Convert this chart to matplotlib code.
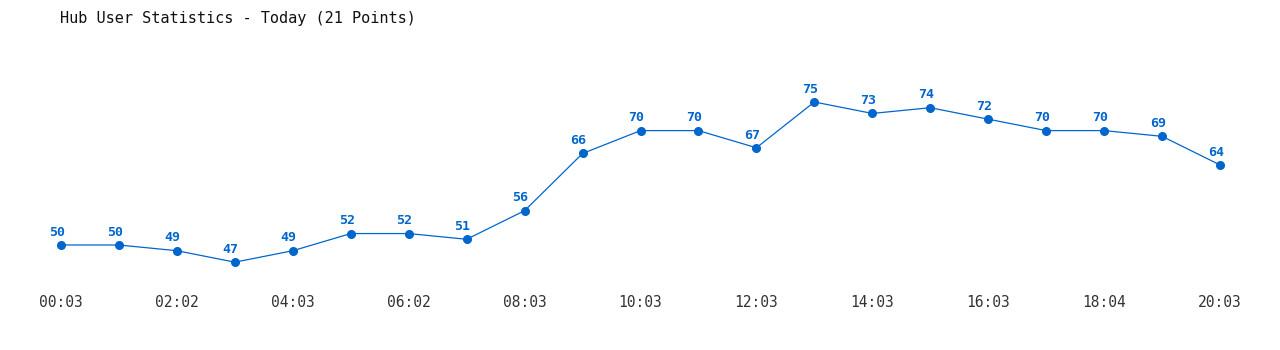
import matplotlib.pyplot as plt

# Hub users, one sample per hour
users = [50, 50, 49, 47, 49, 52, 52, 51, 56, 66, 70, 70, 67, 75, 73, 74, 72, 70, 70, 69, 64]
tick_labels = ["00:03", "02:02", "04:03", "06:02", "08:03", "10:03",
               "12:03", "14:03", "16:03", "18:04", "20:03"]

blue = "#0066cc"
W, H = 1280, 350
fig = plt.figure(figsize=(W / 100, H / 100), dpi=100)

# axes placed so points run from x=61px to x=1220px
y_lo, y_hi = 44, 80
px_per_unit = 143 / 25
top_px = 102 - (y_hi - 75) * px_per_unit
bot_px = 245 + (50 - y_lo) * px_per_unit
ax = fig.add_axes([61 / W, 1 - bot_px / H, (1220 - 61) / W, (bot_px - top_px) / H])

x = list(range(len(users)))
ax.plot(x, users, color=blue, lw=0.9, marker="o", ms=5.5, mec=blue, mfc=blue, clip_on=False)
for xi, v in zip(x, users):
    ax.annotate(str(v), (xi, v), xytext=(-3, 4.5), textcoords="offset points",
                ha="center", va="bottom", color=blue, fontsize=9.5,
                fontweight="bold", family="DejaVu Sans Mono")

ax.set_xlim(0, len(users) - 1)
ax.set_ylim(y_lo, y_hi)
ax.set_xticks(x[::2])
ax.set_xticklabels(tick_labels, family="DejaVu Sans Mono", fontsize=10.5, color="#333333")
ax.tick_params(axis="x", length=0, pad=11)
ax.set_yticks([])
for s in ax.spines.values():
    s.set_visible(False)

fig.text(60 / W, 1 - 18 / H, "Hub User Statistics - Today (21 Points)",
         family="DejaVu Sans Mono", fontsize=11, color="#111111", va="center", ha="left")

plt.savefig("out.png", dpi=100)
